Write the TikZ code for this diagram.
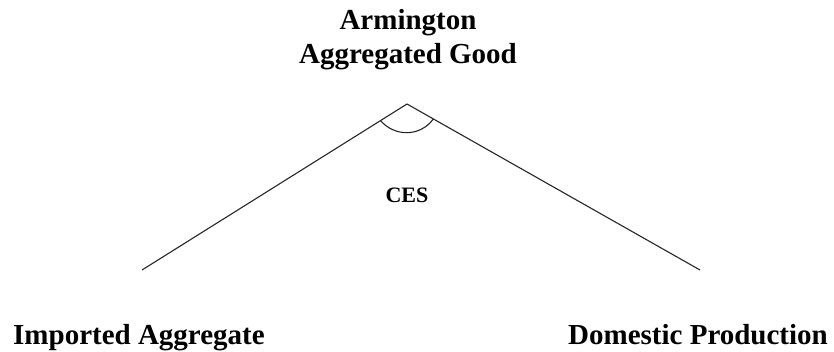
\documentclass[tikz,border=0pt]{standalone}
\usepackage{fontspec}
\setmainfont{Liberation Serif}
\usetikzlibrary{calc}
\usetikzlibrary{positioning}
\tikzstyle{goodlabel}=[%
  inner sep=0pt,
  font=\fontsize{29}{34}\selectfont\bfseries,
  align=center
]
\tikzstyle{branch}=[%
  line width=1.1pt,
  black!85
]

\begin{document}
\begin{tikzpicture}[x=1pt, y=-1pt]
      \useasboundingbox (0,0) rectangle (834,351);
      \coordinate (top) at (407, 104);
      \coordinate (imp) at (142, 270);
      \coordinate (dom) at (700, 270);
      \node[goodlabel, anchor=north] (arm) at (408, 9) {Armington\\Aggregated Good};
      \node[goodlabel, anchor=base west] (impl) at (13, 344) {Imported Aggregate};
      \node[goodlabel, anchor=base east] (doml) at (828, 344) {Domestic Production};
      \node[goodlabel, font=\fontsize{22}{26}\selectfont\bfseries, anchor=base] (ces) at (407, 202) {CES};
      \draw[branch] (imp) -- (top) -- (dom);
      % elasticity arc
      \draw[branch] ($(top)!0.1!(imp)$) .. controls (395,137) and (420,137) .. ($(top)!0.09!(dom)$);
    \end{tikzpicture}
\end{document}
